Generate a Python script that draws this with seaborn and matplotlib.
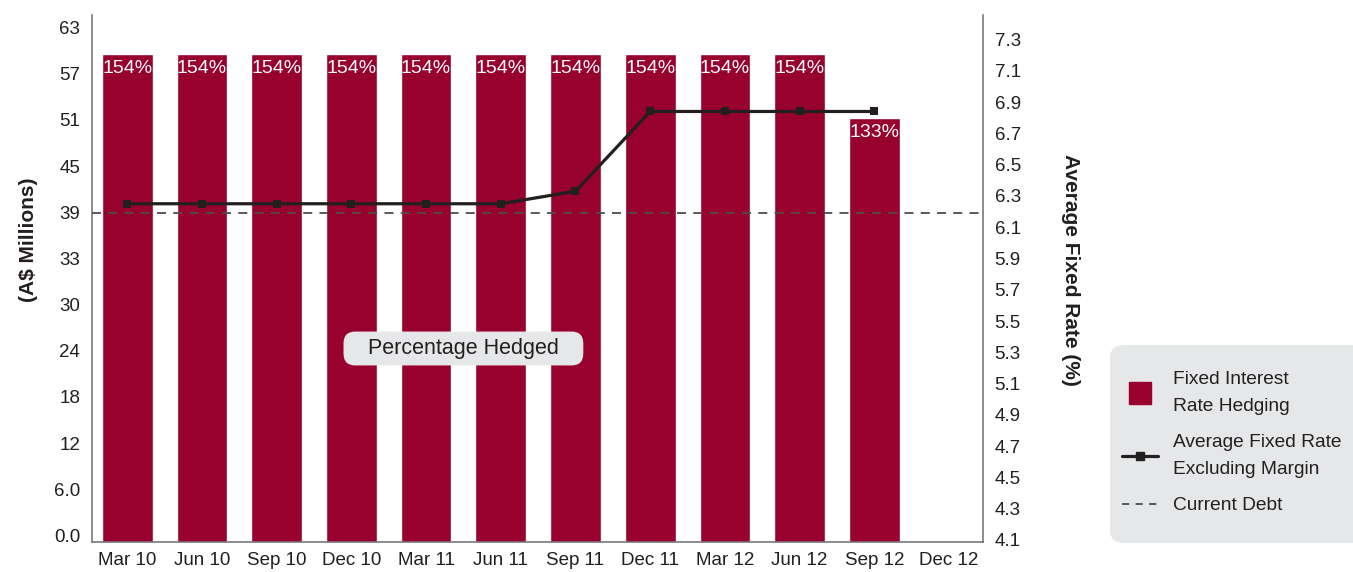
import numpy as np
import pandas as pd
import matplotlib
matplotlib.use("Agg")
import matplotlib.pyplot as plt
import seaborn as sns
from matplotlib.lines import Line2D
from matplotlib.patches import FancyBboxPatch

QUARTERS = ["Mar 10", "Jun 10", "Sep 10", "Dec 10", "Mar 11", "Jun 11",
            "Sep 11", "Dec 11", "Mar 12", "Jun 12", "Sep 12", "Dec 12"]
HEDGING = [60.5] * 10 + [52.6, np.nan]          # A$ millions
HEDGED_PCT = ["154%"] * 10 + ["133%", ""]
AVG_RATE = [6.25] * 6 + [6.33] + [6.84] * 4 + [np.nan]   # %
CURRENT_DEBT = 40.8
LEFT_LABELS = ["0.0", "6.0", "12", "18", "24", "30", "33", "39", "45", "51", "57", "63"]
RIGHT_TICKS = [4.1, 4.3, 4.5, 4.7, 4.9, 5.1, 5.3, 5.5, 5.7, 5.9, 6.1, 6.3,
               6.5, 6.7, 6.9, 7.1, 7.3]

RED = "#98002E"
INK = "#231F20"
GREY = "#E6E7E8"
SPINE = "#6D6E71"

sns.set_style("white")
plt.rcParams["font.family"] = ["Liberation Sans", "DejaVu Sans"]
plt.rcParams.update({"text.color": INK, "xtick.color": INK, "ytick.color": INK,
                     "axes.labelcolor": INK})

df = pd.DataFrame({"quarter": QUARTERS, "hedging": HEDGING, "rate": AVG_RATE})

fig = plt.figure(figsize=(13.53, 5.72), dpi=100)
ax = fig.add_axes([0.068, 0.0524, 0.6583, 0.9214])
sns.barplot(df, x="quarter", y="hedging", order=QUARTERS, color=RED, saturation=1,
            width=0.68, errorbar=None, ax=ax)
for i, (v, lab) in enumerate(zip(HEDGING, HEDGED_PCT)):
    if lab:
        ax.text(i, v - 1.8, lab, color="white", ha="center", va="center", fontsize=14)
ax.axhline(CURRENT_DEBT, color="#4D4D4D", lw=1.3, ls=(0, (5, 4)), zorder=3)
ax.text(4.5, 24, "   Percentage Hedged   ", fontsize=15.5, ha="center", va="center",
        zorder=5, bbox=dict(boxstyle="round,pad=0.3,rounding_size=0.55", fc=GREY, ec="none"))

ax2 = ax.twinx()
sns.lineplot(x=np.arange(len(QUARTERS)), y=AVG_RATE, ax=ax2, color=INK, lw=2.3,
             marker="s", markersize=6, markeredgewidth=0)

ax.set_xlim(-0.471, 11.45)
ax.set_ylim(0, 65.36)
ax2.set_ylim(4.087, 7.457)
ax.set_yticks(np.linspace(0, 63, len(LEFT_LABELS)), LEFT_LABELS)
for t in ax.get_yticklabels():
    t.set_verticalalignment("baseline")
ax2.set_yticks(RIGHT_TICKS, [f"{t:.1f}" for t in RIGHT_TICKS])
ax.tick_params(axis="y", length=0, pad=8.6, labelsize=13.5)
ax.tick_params(axis="x", length=0, pad=7.5, labelsize=13.5)
ax2.tick_params(axis="y", length=0, pad=8.6, labelsize=13.5)

ax.set_xlabel("")
ax.set_ylabel("(A$ Millions)", fontsize=15, fontweight="bold")
ax.yaxis.set_label_coords(-0.0718, 0.573)
ax.yaxis.label.set(va="center", ha="center")
ax2.set_ylabel("Average Fixed Rate (%)", fontsize=15, fontweight="bold", rotation=-90)
ax2.yaxis.set_label_coords(1.0988, 0.516)
ax2.yaxis.label.set(va="center", ha="center")

for s in ("top", "right"):
    ax.spines[s].set_visible(False)
for s in ("top", "left", "bottom"):
    ax2.spines[s].set_visible(False)
for sp in (ax.spines["left"], ax.spines["bottom"], ax2.spines["right"]):
    sp.set_color(SPINE)
    sp.set_linewidth(1.1)

# legend on a rounded grey panel at the right
fig.patches.append(FancyBboxPatch((0.8204, 0.0507), 0.25, 0.346,
                                  boxstyle="round,pad=0,rounding_size=0.01",
                                  mutation_aspect=1353 / 572, transform=fig.transFigure,
                                  fc=GREY, ec="none", zorder=0))
handles = [Line2D([], [], ls="none", marker="s", ms=16, color=RED),
           Line2D([], [], color=INK, lw=2.3, marker="s", ms=6),
           Line2D([], [], color="#4D4D4D", lw=1.3, ls=(0, (4, 3.5)))]
labels = ["Fixed Interest\nRate Hedging", "Average Fixed Rate\nExcluding Margin", "Current Debt"]
leg = fig.legend(handles, labels, loc="upper left", bbox_to_anchor=(1122 / 1353, 1 - 371 / 572),
                 frameon=False, fontsize=13.8, handlelength=1.9, handletextpad=0.75,
                 labelspacing=1.0, borderpad=0, borderaxespad=0)
for t in leg.get_texts():
    t.set_linespacing(1.75)

fig.savefig("out.png", dpi=100)
